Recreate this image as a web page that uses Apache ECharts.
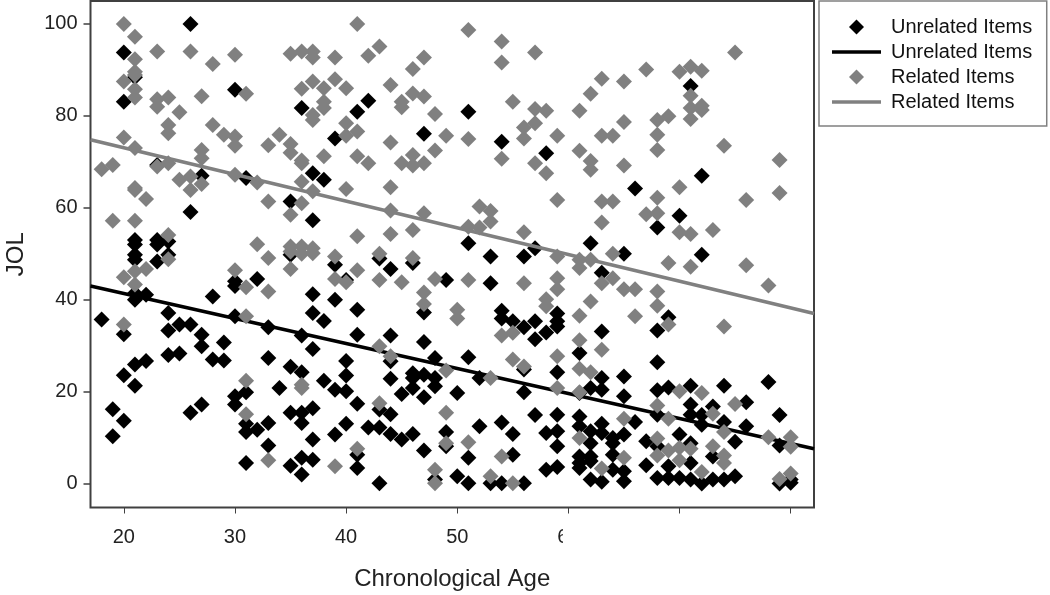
<!DOCTYPE html>
<html>
<head>
<meta charset="utf-8">
<script src="https://cdn.jsdelivr.net/npm/echarts@6/dist/echarts.min.js"></script>
<style>html,body{margin:0;padding:0;background:#fff}#c{width:1050px;height:595px}</style>
</head>
<body>
<div id="c"></div>
<script>
const xTicks = [20,30,40,50,60,70,80];
const xLabels = [20,30,40,50,60];
const yTicks = [0,20,40,60,80,100];
const unrelatedItems = [
[18,35.7],[19,16.2],[19,10.3],[20,93.8],[20,83.1],[20,32.5],[20,23.6],[20,13.7],
[21,88.4],[21,40],[21,41.4],[21,25.9],[21,21.3],[21,49.8],[21,48.7],[21,53],[21,52],[22,41.1],[22,26.7],
[23,69.3],[23,48.3],[23,53],[23,52],[24,37.1],[24,33.3],[24,28],[24,49.8],[24,52.7],[25,34.6],[25,28.3],
[26,100],[26,59.1],[26,34.6],[26,15.4],[27,67],[27,32.4],[27,29.9],[27,17.2],[28,40.7],[28,27],[29,30.7],[29,26.8],
[30,85.7],[30,44],[30,43],[30,36.4],[30,19],[30,17.2],[31,66.5],[31,19.9],[31,13],[31,11.2],[31,4.5],
[32,44.5],[32,11.7],[33,34],[33,27.3],[33,13.2],[33,8.3],[34,20.8],[35,61.4],[35,49.8],[35,25.4],[35,15.4],[35,3.9],
[36,81.7],[36,32.2],[36,24.2],[36,15.4],[36,13.2],[36,5.6],[36,2],[37,67.5],[37,57.3],[37,41.2],[37,37.1],[37,29.3],[37,16.4],[37,9.6],[37,5.2],
[38,66.1],[38,35.4],[38,22.4],[39,75.1],[39,47.6],[39,40],[39,20.4],[39,10.7],[40,44.3],[40,26.7],[40,23.5],[40,20.1],[40,13],
[41,80.9],[41,37.8],[41,32.4],[41,17.4],[41,6.3],[41,3.4],[42,83.3],[42,12.2],[43,49],[43,16.1],[43,12.2],[43,0.1],
[44,46.7],[44,32.2],[44,26.6],[44,22.8],[44,15.1],[44,10.8],[45,19.5],[45,9.6],[46,48],[46,24],[46,23],[46,20.8],[46,10.8],
[47,76.1],[47,37.2],[47,30.8],[47,23.7],[47,18.8],[47,7.2],[48,27.3],[48,23],[48,21.2],[48,0.9],[49,44.3],[49,11.2],[49,8.1],
[50,19.7],[50,1.6],[51,80.9],[51,52.3],[51,27.5],[51,5.6],[51,0.1],[52,23],[52,12.5],[53,49.4],[53,43.6],[53,0.1],
[54,74.4],[54,37.6],[54,35.9],[54,13.3],[54,0.1],[55,35.3],[55,10.8],[55,6.3],[56,49.4],[56,34],[56,24.8],[56,19.9],[56,0.1],
[57,51.2],[57,35.3],[57,31.4],[57,14.9],[58,71.9],[58,32.9],[58,11],[58,3],[59,37],[59,35.3],[59,34.2],[59,24.2],[59,15],[59,11.4],[59,8.1],[59,3.6],
[61,28.4],[61,19.7],[61,14.6],[61,12.5],[61,5.9],[61,4.5],[61,3.4],[62,52.3],[62,20.8],[62,11.4],[62,8.8],[62,5.9],[62,4.9],[62,0.9],
[63,45.9],[63,33.1],[63,23],[63,20.4],[63,13],[63,11],[63,0.4],[64,9.9],[64,8.8],[64,6.3],[64,3],[65,50],[65,23.3],[65,19],[65,10.7],[65,2.7],[65,0.5],
[66,64.2],[66,13.4],[67,9.2],[67,4],[68,55.7],[68,33.3],[68,26.4],[68,20.3],[68,15],[68,8.1],[68,1.2],[69,36.2],[69,20.9],[69,3.8],[69,1.2],
[70,58.3],[70,10.7],[70,1.2],[71,86.5],[71,21.3],[71,17.2],[71,15],[71,8.8],[71,4.5],[71,0.9],[72,67],[72,49.8],[72,14.9],[72,12.8],[72,0],
[73,16.8],[73,5.9],[73,0.9],[74,21.3],[74,13.4],[74,0.9],[75,9.1],[75,1.6],[76,17.7],[76,12.5],[78,22.1],[79,14.9],[79,8.3],[79,0],[80,0.2],[80,0.9]
];
const relatedItems = [
[18,68.4],[19,69.3],[19,57.2],[20,100],[20,87.5],[20,75.3],[20,44.9],[20,34.6],
[21,97.2],[21,92.3],[21,89.6],[21,88.9],[21,85.8],[21,84],[21,73],[21,64.3],[21,63.9],[21,57.2],[21,46.2],[21,43.3],
[22,61.9],[22,46.7],[23,94],[23,83.6],[23,82],[23,69],[24,84],[24,78],[24,76.2],[24,69.7],[24,54.1],[24,48.8],
[25,80.8],[25,66.1],[26,94],[26,66.8],[26,63.9],[27,84.3],[27,72.6],[27,70.8],[27,65.2],[28,91.3],[28,78],[29,75.9],
[30,93.3],[30,75.5],[30,73.5],[30,67.2],[30,46.4],[31,84.8],[31,42.7],[31,36.4],[31,22.4],[31,15.1],[32,65.5],[32,52.1],
[33,73.6],[33,61.4],[33,49.1],[33,41.8],[33,5.1],[34,75.9],[35,93.5],[35,73.9],[35,72],[35,58.5],[35,51.6],[35,50.5],[35,46.7],
[36,94],[36,85.9],[36,70.3],[36,69.7],[36,65.7],[36,61],[36,51.6],[36,50],[36,21.5],[36,20.8],
[37,94],[37,92.7],[37,87.5],[37,80.2],[37,79.1],[37,63.6],[37,51.2],[37,50.1],[38,86],[38,83.1],[38,81.7],[38,71.2],
[39,92.7],[39,88],[39,49.4],[39,44.5],[39,3.8],[40,86],[40,78.4],[40,75.7],[40,64.1],[40,43.8],
[41,100],[41,76.6],[41,71.2],[41,53.8],[41,46.4],[41,7.6],[42,93.1],[42,69.7],[43,95.1],[43,50],[43,44.3],[43,29.9],[43,17.5],
[44,86.7],[44,74.2],[44,64.5],[44,59.4],[44,54.3],[44,27.7],[45,83.1],[45,81.9],[45,69.7],[45,43.8],
[46,90.2],[46,84.9],[46,71.5],[46,69.2],[46,55.2],[46,49.1],[47,92.7],[47,84.2],[47,69.7],[47,58.8],[47,41.6],[47,39.1],
[48,80.4],[48,72.5],[48,44.5],[48,3],[48,0.1],[49,75.7],[49,24.6],[49,15.4],[49,8.8],[50,37.8],[50,35.9],
[51,98.7],[51,75],[51,55.9],[51,44.3],[51,9],[52,60.3],[52,55.7],[53,59.3],[53,57],[53,23],[53,1.6],
[54,96.2],[54,91.6],[54,70.7],[54,32.2],[54,5.9],[55,83.1],[55,32.8],[55,27],[55,0.1],[56,77.5],[56,75.1],[56,54.7],[56,43.6],[56,25.5],
[57,93.8],[57,81.5],[57,78.4],[57,69.7],[58,81.1],[58,67.5],[58,40.1],[58,38.6],[59,75.7],[59,61.7],[59,49.4],[59,44.7],[59,42.3],[59,27.7],[59,20.8],
[61,81.1],[61,72.4],[61,48.7],[61,46.9],[61,36.5],[61,31.2],[61,25],[61,19.9],[61,9.9],
[62,84.8],[62,70.2],[62,68.3],[62,48.7],[62,39.6],[62,24.2],[63,88.1],[63,75.7],[63,61.4],[63,56.8],[63,43.6],[63,29.1],[63,3.3],
[64,75.7],[64,61.4],[64,50],[64,44.7],[65,87.5],[65,78.7],[65,69.2],[65,42.3],[65,14.1],[65,5.6],[66,42.3],[66,36.4],
[67,90.1],[67,58.6],[68,79.1],[68,75.9],[68,72.6],[68,62.2],[68,58.8],[68,41.8],[68,38.7],[68,17],[68,9.8],[68,6.1],
[69,79.9],[69,48],[69,34.6],[69,14.1],[69,7.2],[70,89.6],[70,64.5],[70,54.7],[70,20.1],[70,7.8],[70,5.1],
[71,90.7],[71,84.4],[71,81.7],[71,79.3],[71,54.3],[71,47.2],[71,7.6],[72,89.8],[72,82.2],[72,81.3],[72,19.7],[72,2.5],
[73,55.2],[73,15.2],[73,8.1],[74,73.5],[74,34.2],[74,11.2],[74,6.1],[74,4.5],[75,93.8],[75,17.3],[76,61.7],[76,47.5],
[78,43.1],[78,10.1],[79,70.4],[79,63.2],[79,1],[80,10.1],[80,8],[80,2.2]
];
const unrelatedFit = [[17,43],[82.1,7.6]];
const relatedFit = [[17,74.8],[82.1,37]];
const UNREL = 'Unrelated Items', UNREL_FIT = 'Unrelated Items ', REL = 'Related Items', REL_FIT = 'Related Items ';
const font = '"Liberation Sans", Arial, sans-serif';
const axisCol = '#404040';
const diamondIcon = 'path://M0,-1L1,0L0,1L-1,0Z';
const lineIcon = 'path://M0,0H49V3.5H0Z';
const chart = echarts.init(document.getElementById('c'), null, {renderer:'canvas'});
chart.setOption({
  animation:false,
  backgroundColor:'#fff',
  textStyle:{fontFamily:font},
  grid:{left:90.5,top:1,right:236,bottom:87.5,show:true,borderColor:axisCol,borderWidth:2,backgroundColor:'#fff',outerBoundsMode:'none'},
  xAxis:{type:'value',min:17,max:82.1,
    name:'Chronological Age',nameLocation:'middle',nameGap:60,
    nameTextStyle:{fontSize:24,color:'#222',fontFamily:font},
    axisLine:{show:false,onZero:false},
    axisTick:{show:true,length:6,inside:false,lineStyle:{color:axisCol,width:1},customValues:xTicks},
    axisLabel:{fontSize:20,color:'#222',margin:20,fontFamily:font,customValues:xLabels},
    splitLine:{show:false}},
  yAxis:{type:'value',min:-5.2,max:105,
    name:'JOL',nameLocation:'middle',nameGap:62,
    nameTextStyle:{fontSize:24,color:'#222',fontFamily:font},
    axisLine:{show:false,onZero:false},
    axisTick:{show:true,length:7,lineStyle:{color:axisCol,width:1.5},customValues:yTicks},
    axisLabel:{fontSize:20,color:'#222',margin:13,fontFamily:font,customValues:yTicks},
    splitLine:{show:false}},
  legend:{orient:'vertical',left:819,top:1,padding:[16,9,14,13],itemWidth:49,itemHeight:15,itemGap:5,
    backgroundColor:'#fff',borderColor:'#808080',borderWidth:1.5,selectedMode:false,symbolKeepAspect:true,
    textStyle:{fontSize:20,color:'#111',fontFamily:font,padding:[0,0,0,5]},
    data:[{name:UNREL,icon:diamondIcon},{name:UNREL_FIT,icon:lineIcon},{name:REL,icon:diamondIcon},{name:REL_FIT,icon:lineIcon}]},
  series:[
    {name:UNREL,type:'scatter',symbol:'diamond',symbolSize:16,data:unrelatedItems,itemStyle:{color:'#000',opacity:1},z:2},
    {name:UNREL_FIT,type:'line',showSymbol:false,symbol:'none',data:unrelatedFit,lineStyle:{color:'#000',width:3.5},itemStyle:{color:'#000'},z:3},
    {name:REL,type:'scatter',symbol:'diamond',symbolSize:16,data:relatedItems,itemStyle:{color:'#808080',opacity:1},z:4},
    {name:REL_FIT,type:'line',showSymbol:false,symbol:'none',data:relatedFit,lineStyle:{color:'#808080',width:3.5},itemStyle:{color:'#808080'},z:5}
  ],
  graphic:[{type:'rect',left:563,top:525,z:100,shape:{width:40,height:24},style:{fill:'#fff'}}]
});
</script>
</body>
</html>
